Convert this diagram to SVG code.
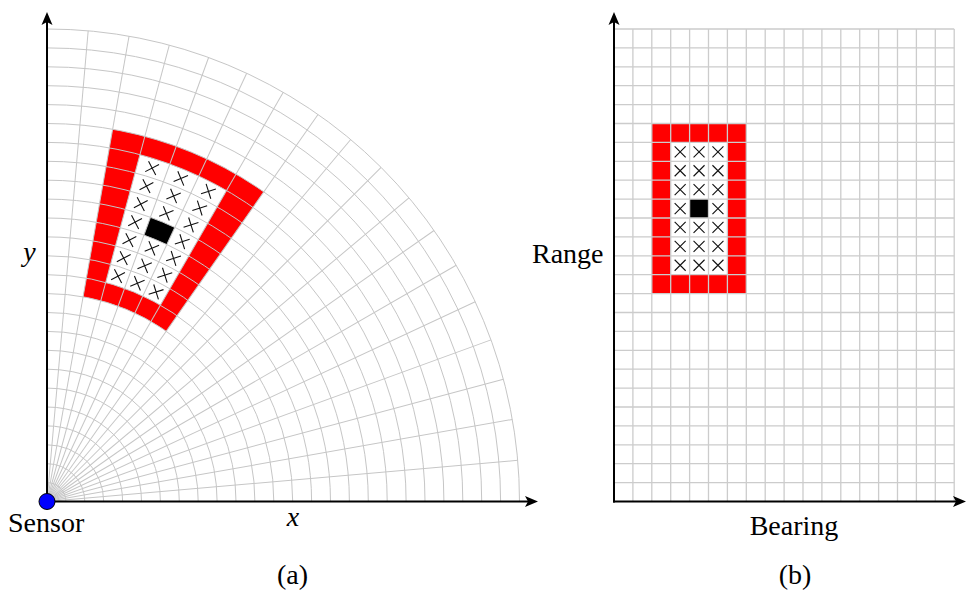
<svg xmlns="http://www.w3.org/2000/svg" xmlns:xlink="http://www.w3.org/1999/xlink" width="967" height="591" viewBox="0 0 967 591">
<style>
.grid{stroke:#c6c6c6;stroke-width:1;fill:none}
.gridr{stroke:#cccccc;stroke-width:1.3;fill:none}
.axis{stroke:#000;stroke-width:2;fill:none}
.lbl{font-family:'Liberation Serif','Times New Roman','DejaVu Serif',serif;font-size:28px;fill:#000}
.it{font-style:italic}
.red{fill:#ff0000}
.blk{fill:#000}
.xm{stroke:#111;stroke-width:1.1;fill:none}
</style>
<defs>
<marker id="arr" viewBox="-14 -7 15 14" refX="-8" refY="0" markerWidth="15" markerHeight="14" orient="auto" markerUnits="userSpaceOnUse">
<path d="M0,0 L-13,-5.5 L-10,0 L-13,5.5 Z" fill="#000"/>
</marker>
<path id="xm" class="xm" d="M-5.5,-5.5L5.5,5.5M-5.5,5.5L5.5,-5.5"/>
<line id="rad" x1="0" y1="0" x2="0" y2="-472.5"/>
</defs>

<!-- Panel (a): polar grid -->
<g id="panel-a">
<g id="polar-cells" transform="translate(47,501.5)">
<path id="red-band-a" class="red" fill-rule="evenodd" d="M36.10,-204.74 L65.64,-372.26 A378 378 0 0 1 216.81,-309.64 L119.25,-170.30 A207.9 207.9 0 0 0 36.10,-204.74 Z M58.70,-219.07 L92.94,-346.86 A359.1 359.1 0 0 1 179.55,-310.99 L113.40,-196.41 A226.8 226.8 0 0 0 58.70,-219.07 Z"/>
<path id="center-a" class="blk" d="M96.96,-266.40 L103.43,-284.16 A302.4 302.4 0 0 1 127.80,-274.07 L119.81,-256.94 A283.5 283.5 0 0 0 96.96,-266.40 Z"/>
</g>
<g id="polar-grid" class="grid" transform="translate(47,501.5)">
<path d="M0,-18.9A18.9 18.9 0 0 1 18.9,0M0,-37.8A37.8 37.8 0 0 1 37.8,0M0,-56.7A56.7 56.7 0 0 1 56.7,0M0,-75.6A75.6 75.6 0 0 1 75.6,0M0,-94.5A94.5 94.5 0 0 1 94.5,0M0,-113.4A113.4 113.4 0 0 1 113.4,0M0,-132.3A132.3 132.3 0 0 1 132.3,0M0,-151.2A151.2 151.2 0 0 1 151.2,0M0,-170.1A170.1 170.1 0 0 1 170.1,0M0,-189A189 189 0 0 1 189,0M0,-207.9A207.9 207.9 0 0 1 207.9,0M0,-226.8A226.8 226.8 0 0 1 226.8,0M0,-245.7A245.7 245.7 0 0 1 245.7,0M0,-264.6A264.6 264.6 0 0 1 264.6,0M0,-283.5A283.5 283.5 0 0 1 283.5,0M0,-302.4A302.4 302.4 0 0 1 302.4,0M0,-321.3A321.3 321.3 0 0 1 321.3,0M0,-340.2A340.2 340.2 0 0 1 340.2,0M0,-359.1A359.1 359.1 0 0 1 359.1,0M0,-378A378 378 0 0 1 378,0M0,-396.9A396.9 396.9 0 0 1 396.9,0M0,-415.8A415.8 415.8 0 0 1 415.8,0M0,-434.7A434.7 434.7 0 0 1 434.7,0M0,-453.6A453.6 453.6 0 0 1 453.6,0M0,-472.5A472.5 472.5 0 0 1 472.5,0"/>
<use xlink:href="#rad" transform="rotate(5)"/>
<use xlink:href="#rad" transform="rotate(10)"/>
<use xlink:href="#rad" transform="rotate(15)"/>
<use xlink:href="#rad" transform="rotate(20)"/>
<use xlink:href="#rad" transform="rotate(25)"/>
<use xlink:href="#rad" transform="rotate(30)"/>
<use xlink:href="#rad" transform="rotate(35)"/>
<use xlink:href="#rad" transform="rotate(40)"/>
<use xlink:href="#rad" transform="rotate(45)"/>
<use xlink:href="#rad" transform="rotate(50)"/>
<use xlink:href="#rad" transform="rotate(55)"/>
<use xlink:href="#rad" transform="rotate(60)"/>
<use xlink:href="#rad" transform="rotate(65)"/>
<use xlink:href="#rad" transform="rotate(70)"/>
<use xlink:href="#rad" transform="rotate(75)"/>
<use xlink:href="#rad" transform="rotate(80)"/>
<use xlink:href="#rad" transform="rotate(85)"/>
<use xlink:href="#rad" transform="rotate(90)"/>
</g>
<g id="polar-crosses" transform="translate(47,501.5)">
<use xlink:href="#xm" transform="rotate(17.5) translate(0,-236.25)"/>
<use xlink:href="#xm" transform="rotate(17.5) translate(0,-255.15)"/>
<use xlink:href="#xm" transform="rotate(17.5) translate(0,-274.05)"/>
<use xlink:href="#xm" transform="rotate(17.5) translate(0,-292.95)"/>
<use xlink:href="#xm" transform="rotate(17.5) translate(0,-311.85)"/>
<use xlink:href="#xm" transform="rotate(17.5) translate(0,-330.75)"/>
<use xlink:href="#xm" transform="rotate(17.5) translate(0,-349.65)"/>
<use xlink:href="#xm" transform="rotate(22.5) translate(0,-236.25)"/>
<use xlink:href="#xm" transform="rotate(22.5) translate(0,-255.15)"/>
<use xlink:href="#xm" transform="rotate(22.5) translate(0,-274.05)"/>
<use xlink:href="#xm" transform="rotate(22.5) translate(0,-311.85)"/>
<use xlink:href="#xm" transform="rotate(22.5) translate(0,-330.75)"/>
<use xlink:href="#xm" transform="rotate(22.5) translate(0,-349.65)"/>
<use xlink:href="#xm" transform="rotate(27.5) translate(0,-236.25)"/>
<use xlink:href="#xm" transform="rotate(27.5) translate(0,-255.15)"/>
<use xlink:href="#xm" transform="rotate(27.5) translate(0,-274.05)"/>
<use xlink:href="#xm" transform="rotate(27.5) translate(0,-292.95)"/>
<use xlink:href="#xm" transform="rotate(27.5) translate(0,-311.85)"/>
<use xlink:href="#xm" transform="rotate(27.5) translate(0,-330.75)"/>
<use xlink:href="#xm" transform="rotate(27.5) translate(0,-349.65)"/>
</g>
</g>

<!-- Panel (b): range-bearing grid -->
<g id="panel-b">
<g id="rect-cells" transform="translate(614,501.5)">
<path id="red-band-b" class="red" fill-rule="evenodd" d="M37.8,-378h94.5v170.1h-94.5Z M56.7,-359.1h56.7v132.3h-56.7Z"/>
<rect id="center-b" class="blk" x="75.6" y="-302.4" width="18.9" height="18.9"/>
</g>
<g id="rect-grid" class="gridr" transform="translate(614,501.5)">
<path d="M18.9,0V-472.5M37.8,0V-472.5M56.7,0V-472.5M75.6,0V-472.5M94.5,0V-472.5M113.4,0V-472.5M132.3,0V-472.5M151.2,0V-472.5M170.1,0V-472.5M189,0V-472.5M207.9,0V-472.5M226.8,0V-472.5M245.7,0V-472.5M264.6,0V-472.5M283.5,0V-472.5M302.4,0V-472.5M321.3,0V-472.5M340.2,0V-472.5"/>
<path d="M0,-18.9H340.2M0,-37.8H340.2M0,-56.7H340.2M0,-75.6H340.2M0,-94.5H340.2M0,-113.4H340.2M0,-132.3H340.2M0,-151.2H340.2M0,-170.1H340.2M0,-189H340.2M0,-207.9H340.2M0,-226.8H340.2M0,-245.7H340.2M0,-264.6H340.2M0,-283.5H340.2M0,-302.4H340.2M0,-321.3H340.2M0,-340.2H340.2M0,-359.1H340.2M0,-378H340.2M0,-396.9H340.2M0,-415.8H340.2M0,-434.7H340.2M0,-453.6H340.2M0,-472.5H340.2"/>
</g>
<g id="rect-crosses">
<use xlink:href="#xm" transform="translate(680.15,265.25)"/>
<use xlink:href="#xm" transform="translate(680.15,246.35)"/>
<use xlink:href="#xm" transform="translate(680.15,227.45)"/>
<use xlink:href="#xm" transform="translate(680.15,208.55)"/>
<use xlink:href="#xm" transform="translate(680.15,189.65)"/>
<use xlink:href="#xm" transform="translate(680.15,170.75)"/>
<use xlink:href="#xm" transform="translate(680.15,151.85)"/>
<use xlink:href="#xm" transform="translate(699.05,265.25)"/>
<use xlink:href="#xm" transform="translate(699.05,246.35)"/>
<use xlink:href="#xm" transform="translate(699.05,227.45)"/>
<use xlink:href="#xm" transform="translate(699.05,189.65)"/>
<use xlink:href="#xm" transform="translate(699.05,170.75)"/>
<use xlink:href="#xm" transform="translate(699.05,151.85)"/>
<use xlink:href="#xm" transform="translate(717.95,265.25)"/>
<use xlink:href="#xm" transform="translate(717.95,246.35)"/>
<use xlink:href="#xm" transform="translate(717.95,227.45)"/>
<use xlink:href="#xm" transform="translate(717.95,208.55)"/>
<use xlink:href="#xm" transform="translate(717.95,189.65)"/>
<use xlink:href="#xm" transform="translate(717.95,170.75)"/>
<use xlink:href="#xm" transform="translate(717.95,151.85)"/>
</g>
</g>

<!-- Axes (connectors) -->
<g id="axes" class="axis">
<line x1="47" y1="501.5" x2="47" y2="20" marker-end="url(#arr)"/>
<line x1="47" y1="501.5" x2="530" y2="501.5" marker-end="url(#arr)"/>
<line x1="614" y1="502.5" x2="614" y2="20" marker-end="url(#arr)"/>
<line x1="613" y1="501.5" x2="958" y2="501.5" marker-end="url(#arr)"/>
</g>

<g id="sensor">
<circle cx="47" cy="501.5" r="8" fill="#0000ff" stroke="#000" stroke-width="1"/>
<text class="lbl" x="8" y="532">Sensor</text>
</g>

<g id="labels">
<text class="lbl it" x="29.5" y="261" text-anchor="middle">y</text>
<text class="lbl it" x="293" y="526" text-anchor="middle">x</text>
<text class="lbl" x="603.5" y="263" text-anchor="end">Range</text>
<text class="lbl" x="794" y="535" text-anchor="middle">Bearing</text>
<text class="lbl" x="292.5" y="584" text-anchor="middle">(a)</text>
<text class="lbl" x="795" y="584" text-anchor="middle">(b)</text>
</g>
</svg>
